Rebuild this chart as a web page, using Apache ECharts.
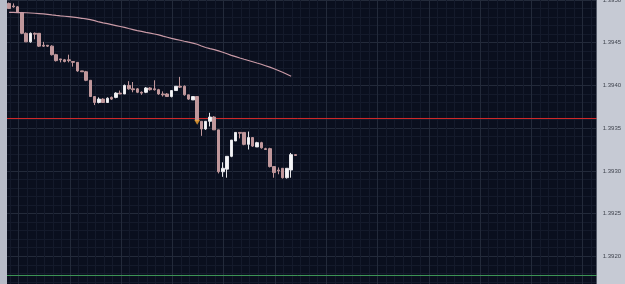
<!DOCTYPE html>
<html>
<head>
<meta charset="utf-8">
<script src="https://cdn.jsdelivr.net/npm/echarts@6/dist/echarts.min.js"></script>
<style>html,body{margin:0;padding:0;background:#0a0f1e}#c{width:625px;height:284px}</style>
</head>
<body>
<div id="c"></div>
<script>
// ---- data ----
const slotCount = 138; // candle slots visible across the plot width
const open = [1.39496,1.39493,1.39492,1.39485,1.39461,1.39451,1.39461,1.39461,1.39447,1.39447,
1.39446,1.39436,1.39431,1.39430,1.39430,1.39428,1.39427,1.39417,1.39416,1.39406,
1.39387,1.39380,1.39384,1.39380,1.39386,1.39386,1.39391,1.39390,1.39400,1.39396,
1.39396,1.39392,1.39392,1.39397,1.39396,1.39395,1.39390,1.39390,1.39387,1.39394,
1.39399,1.39399,1.39389,1.39383,1.39387,1.39358,1.39349,1.39358,1.39363,1.39348,
1.39299,1.39302,1.39317,1.39335,1.39345,1.39345,1.39331,1.39339,1.39328,1.39333,
1.39326,1.39326,1.39305,1.39301,1.39303,1.39292,1.39301,1.39319];
const close = [1.39490,1.39492,1.39486,1.39461,1.39451,1.39461,1.39460,1.39446,1.39446,1.39446,
1.39436,1.39429,1.39430,1.39428,1.39429,1.39427,1.39417,1.39416,1.39406,1.39387,
1.39380,1.39384,1.39380,1.39385,1.39384,1.39391,1.39390,1.39400,1.39396,1.39395,
1.39392,1.39391,1.39397,1.39395,1.39395,1.39390,1.39389,1.39387,1.39394,1.39399,
1.39398,1.39389,1.39384,1.39387,1.39359,1.39349,1.39358,1.39363,1.39348,1.39299,
1.39303,1.39317,1.39336,1.39345,1.39344,1.39331,1.39339,1.39329,1.39333,1.39327,
1.39325,1.39305,1.39298,1.39300,1.39292,1.39303,1.39319,1.39318];
const low = [1.39490,1.39491,1.39485,1.39460,1.39451,1.39450,1.39454,1.39445,1.39445,1.39445,
1.39435,1.39428,1.39427,1.39427,1.39427,1.39422,1.39416,1.39416,1.39405,1.39387,
1.39377,1.39379,1.39380,1.39380,1.39383,1.39385,1.39390,1.39390,1.39395,1.39392,
1.39391,1.39389,1.39391,1.39394,1.39394,1.39389,1.39387,1.39387,1.39386,1.39394,
1.39397,1.39388,1.39383,1.39383,1.39358,1.39341,1.39348,1.39352,1.39348,1.39297,
1.39293,1.39292,1.39316,1.39335,1.39338,1.39330,1.39325,1.39328,1.39328,1.39326,
1.39325,1.39304,1.39292,1.39296,1.39291,1.39291,1.39292,1.39318];
const high = [1.39497,1.39496,1.39493,1.39486,1.39462,1.39462,1.39462,1.39461,1.39451,1.39447,
1.39447,1.39437,1.39431,1.39431,1.39436,1.39428,1.39427,1.39417,1.39417,1.39406,
1.39387,1.39386,1.39385,1.39386,1.39387,1.39392,1.39394,1.39401,1.39405,1.39404,
1.39397,1.39393,1.39398,1.39398,1.39406,1.39396,1.39393,1.39391,1.39394,1.39399,
1.39410,1.39400,1.39389,1.39387,1.39387,1.39358,1.39358,1.39368,1.39364,1.39348,
1.39310,1.39317,1.39336,1.39345,1.39345,1.39345,1.39346,1.39339,1.39334,1.39334,
1.39327,1.39327,1.39305,1.39304,1.39303,1.39303,1.39321,1.39319];
const movingAvg = [1.394855,1.394854,1.394853,1.394852,1.394851,1.394848,1.394845,1.394841,1.394837,1.394832,
1.394825,1.394819,1.394814,1.394810,1.394805,1.394799,1.394793,1.394786,1.394778,1.394770,
1.394758,1.394743,1.394732,1.394723,1.394712,1.394701,1.394690,1.394679,1.394666,1.394654,
1.394642,1.394632,1.394621,1.394612,1.394602,1.394591,1.394577,1.394564,1.394551,1.394540,
1.394529,1.394517,1.394506,1.394496,1.394482,1.394462,1.394444,1.394431,1.394419,1.394404,
1.394388,1.394371,1.394352,1.394337,1.394321,1.394306,1.394292,1.394277,1.394262,1.394248,
1.394231,1.394214,1.394195,1.394175,1.394154,1.394131,1.394108];
const signalIndex = [44];
const signalPrice = [1.39357];
const redLevel = 1.393613;
const greenLevel = 1.391775;
const yMin = 1.3915, yMax = 1.3950, yStep = 0.0005;
const gridXMin = 0, gridXMax = 147.3, gridXStep = 12; // helper axis in candle units for vertical grid lines

const categories = Array.from({length: slotCount}, (_, i) => 'bar' + i);
const candles = open.map((o, i) => [o, close[i], low[i], high[i]]);
const signals = signalIndex.map((ix, k) => [categories[ix], signalPrice[k]]);
const levelLine = v => [[gridXMin, v], [gridXMax, v]];

const chart = echarts.init(document.getElementById('c'), null, {renderer: 'canvas'});
chart.setOption({
  animation: false,
  backgroundColor: '#0a0f1e',
  grid: [
    {left: 7, right: 28.3, top: 0, height: 299, containLabel: false, outerBoundsMode: 'none'},
    {left: -32.6, right: 28.3, top: 0, height: 299, containLabel: false, outerBoundsMode: 'none'}
  ],
  xAxis: [
    {type: 'category', gridIndex: 0, data: categories, boundaryGap: true,
     axisLine: {show: false}, axisTick: {show: false}, axisLabel: {show: false}, splitLine: {show: false}},
    {type: 'value', gridIndex: 1, min: gridXMin, max: gridXMax, interval: gridXStep,
     axisLine: {show: false}, axisTick: {show: false}, axisLabel: {show: false},
     splitLine: {show: true, lineStyle: {color: '#232a3a', width: 1}},
     minorTick: {show: false, splitNumber: 6},
     minorSplitLine: {show: true, lineStyle: {color: '#141a2b', width: 1}}}
  ],
  yAxis: [
    {type: 'value', gridIndex: 0, position: 'right', min: yMin, max: yMax, interval: yStep, z: 200,
     axisLine: {show: false}, axisTick: {show: false}, splitLine: {show: false},
     axisLabel: {show: true, margin: 6, fontSize: 6, color: '#40444e', fontFamily: 'Liberation Sans',
       formatter: v => v.toFixed(4)}},
    {type: 'value', gridIndex: 1, min: yMin, max: yMax, interval: yStep,
     axisLine: {show: false}, axisTick: {show: false}, axisLabel: {show: false},
     splitLine: {show: true, lineStyle: {color: '#232a3a', width: 1}},
     minorTick: {show: false, splitNumber: 5},
     minorSplitLine: {show: true, lineStyle: {color: '#141a2b', width: 1}}}
  ],
  graphic: [
    {type: 'rect', z: 100, shape: {x: 0, y: 0, width: 7, height: 284}, style: {fill: '#b7bbc7'}},
    {type: 'rect', z: 100, shape: {x: 596.7, y: 0, width: 28.3, height: 284}, style: {fill: '#c6cad4'}}
  ],
  series: [
    {type: 'line', xAxisIndex: 1, yAxisIndex: 1, data: levelLine(redLevel), symbol: 'none', silent: true,
     itemStyle: {color: '#d42a2a'}, lineStyle: {color: '#d42a2a', width: 1}, z: 1},
    {type: 'line', xAxisIndex: 1, yAxisIndex: 1, data: levelLine(greenLevel), symbol: 'none', silent: true,
     itemStyle: {color: '#3d9455'}, lineStyle: {color: '#3d9455', width: 1}, z: 1},
    {type: 'candlestick', xAxisIndex: 0, yAxisIndex: 0, data: candles, barWidth: 3,
     itemStyle: {color: '#f4f4f6', color0: '#c0979b', borderColor: '#e6e6ea', borderColor0: '#c0979b', borderWidth: 1}},
    {type: 'line', xAxisIndex: 0, yAxisIndex: 0, data: movingAvg, showSymbol: false, symbol: 'none',
     lineStyle: {color: '#c99aa6', width: 1.2}, z: 3},
    {type: 'scatter', xAxisIndex: 0, yAxisIndex: 0, data: signals, symbol: 'triangle', symbolRotate: 180,
     symbolSize: [6, 5], itemStyle: {color: '#f2a431'}, z: 4}
  ]
});
</script>
</body>
</html>
